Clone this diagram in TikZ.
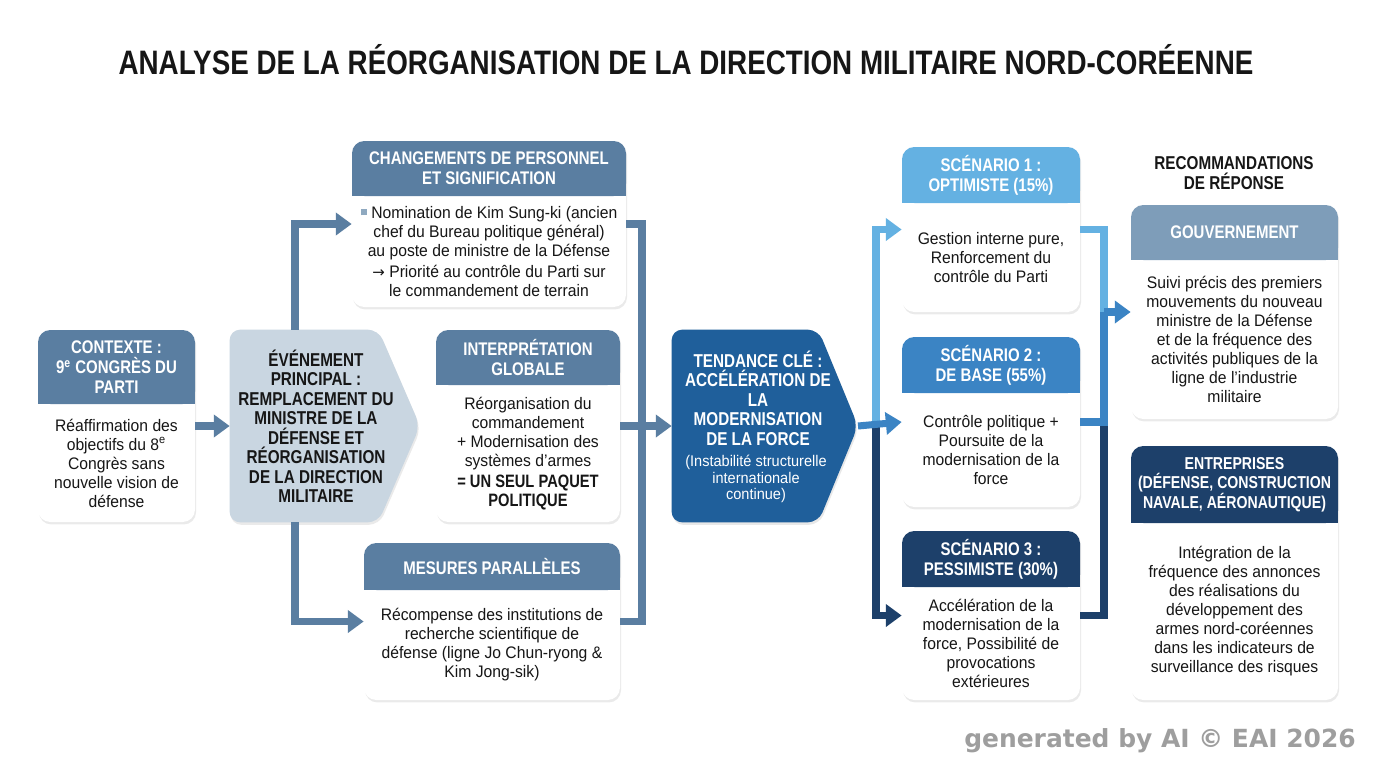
\documentclass[tikz,border=0pt]{standalone}
\usepackage{fontspec}
\setmainfont{Liberation Sans}[FakeStretch=0.94]
\newfontfamily\hfont{Liberation Sans}[FakeStretch=0.82]
\newfontfamily\arrowfont{DejaVu Sans}
\newfontfamily\wmfont{DejaVu Sans}
\usetikzlibrary{arrows.meta,shadows,fit,calc}
\definecolor{steel}{HTML}{5A7EA1}
\definecolor{evfill}{HTML}{C9D6E1}
\definecolor{tendc}{HTML}{1F5F9B}
\definecolor{sone}{HTML}{64B1E2}
\definecolor{stwo}{HTML}{3B84C4}
\definecolor{sthree}{HTML}{1D406A}
\definecolor{govc}{HTML}{7E9DB9}
\definecolor{bulc}{HTML}{8FA9C0}
\definecolor{ink}{HTML}{161616}
\tikzset{
  cardbox/.style={fill=white, rounded corners=7pt, inner sep=0pt,
    drop shadow={opacity=0.16, shadow xshift=0.6pt, shadow yshift=-1.4pt}},
  hdrtxt/.style={font=\hfont\bfseries\fontsize{10.4}{11.2}\selectfont, text=white, align=center, inner sep=0pt},
  bodytxt/.style={font=\fontsize{9.5}{10.8}\selectfont, text=ink, align=center, inner sep=0pt},
  boldtxt/.style={font=\hfont\bfseries\fontsize{10.6}{11.1}\selectfont, align=center, inner sep=0pt},
  conn/.style={line width=4pt, draw=#1, -{Triangle[length=9pt,width=12.5pt]}},
  wire/.style={line width=4pt, draw=#1},
}
\newcommand\card[9]{%
  \node[cardbox, fit={(#2,#3) (#4,#5)}] (#1) {};
  \fill[#7, rounded corners=7pt] (#2,#3) rectangle (#4,#6);
  \fill[#7] (#2,{(#3+#6)/2}) rectangle (#4,#6);
  \node[hdrtxt] (#1h) at ({(#2+#4)/2},{(#3+#6)/2}) {#8};
  \node[bodytxt] (#1b) at ({(#2+#4)/2},{(#6+#5)/2}) {#9};
}
\newcommand\smallhdr{\fontsize{9.8}{11.2}\selectfont}
\begin{document}
\begin{tikzpicture}[x=0.02cm,y=-0.02cm]
\useasboundingbox (0,0) rectangle (1376,768);
\fill[white] (0,0) rectangle (1376,768);

% title
\node[font=\hfont\bfseries\fontsize{19.3}{22}\selectfont, text=ink, inner sep=0pt] (title) at (686,60)
  {ANALYSE DE LA RÉORGANISATION DE LA DIRECTION MILITAIRE NORD-CORÉENNE};

% contexte
\card{ctx}{38}{330}{195}{522}{404}{steel}
  {CONTEXTE :\\9\textsuperscript{e} CONGRÈS DU\\PARTI}
  {Réaffirmation des\\objectifs du 8\textsuperscript{e}\\Congrès sans\\nouvelle vision de\\défense}

% evenement (pentagon)
\node[fit={(230,330) (378,522)}, inner sep=0pt] (ev) {};
\coordinate (evtip) at (420,426);
\path[fill=evfill, rounded corners=6pt, drop shadow={opacity=0.16, shadow xshift=0.6pt, shadow yshift=-1.4pt}]
  (ev.north west) -- (ev.north east) -- (evtip) -- (ev.south east) -- (ev.south west) -- cycle;
\node[boldtxt, text=ink] (evt) at (316,426)
  {ÉVÉNEMENT\\PRINCIPAL :\\REMPLACEMENT DU\\MINISTRE DE LA\\DÉFENSE ET\\RÉORGANISATION\\DE LA DIRECTION\\MILITAIRE};

% changements
\card{chg}{352}{141}{626}{307}{196}{steel}
  {CHANGEMENTS DE PERSONNEL\\ET SIGNIFICATION}
  {\textcolor{bulc}{\rule[1.6pt]{3.6pt}{3.6pt}}\ Nomination de Kim Sung-ki (ancien\\chef du Bureau politique général)\\au poste de ministre de la Défense\\[1.5pt]{\arrowfont\fontsize{8.5}{10}\selectfont →} Priorité au contrôle du Parti sur\\le commandement de terrain}

% interpretation
\card{int}{436}{330}{620}{522}{385}{steel}
  {INTERPRÉTATION\\GLOBALE}
  {Réorganisation du\\commandement\\+ Modernisation des\\systèmes d'armes\\[1.5pt]{\hfont\bfseries\fontsize{10.2}{11}\selectfont = UN SEUL PAQUET}\\{\hfont\bfseries\fontsize{10.2}{11}\selectfont POLITIQUE}}

% mesures
\card{mes}{364}{543}{620}{700}{590}{steel}
  {MESURES PARALLÈLES}
  {Récompense des institutions de\\recherche scientifique de\\défense (ligne Jo Chun-ryong \&\\Kim Jong-sik)}

% tendance (pentagon)
\node[fit={(672,330) (818,522)}, inner sep=0pt] (tend) {};
\coordinate (tendtip) at (858,426);
\path[fill=tendc, rounded corners=6pt, drop shadow={opacity=0.18, shadow xshift=0.6pt, shadow yshift=-1.4pt}]
  (tend.north west) -- (tend.north east) -- (tendtip) -- (tend.south east) -- (tend.south west) -- cycle;
\node[boldtxt, text=white] (tendt) at (758,398)
  {TENDANCE CLÉ :\\ACCÉLÉRATION DE\\LA\\MODERNISATION\\DE LA FORCE};
\node[font=\fontsize{8.8}{9.4}\selectfont, text=white, align=center, inner sep=0pt] (tends) at (756,479)
  {(Instabilité structurelle\\internationale\\continue)};

% scenarios
\card{sa}{902}{147}{1080}{312}{203}{sone}
  {SCÉNARIO 1 :\\OPTIMISTE (15\%)}
  {Gestion interne pure,\\Renforcement du\\contrôle du Parti}
\card{sb}{902}{337}{1080}{507}{393}{stwo}
  {SCÉNARIO 2 :\\DE BASE (55\%)}
  {Contrôle politique +\\Poursuite de la\\modernisation de la\\force}
\card{sc}{902}{531}{1080}{700}{587}{sthree}
  {SCÉNARIO 3 :\\PESSIMISTE (30\%)}
  {Accélération de la\\modernisation de la\\force, Possibilité de\\provocations\\extérieures}

% recommandations
\node[boldtxt, text=ink] (rec) at (1234,173) {RECOMMANDATIONS\\DE RÉPONSE};
\card{gov}{1131}{205}{1338}{419}{260}{govc}
  {GOUVERNEMENT}
  {Suivi précis des premiers\\mouvements du nouveau\\ministre de la Défense\\et de la fréquence des\\activités publiques de la\\ligne de l’industrie\\militaire}
\card{ent}{1131}{446}{1338}{700}{523}{sthree}
  {{\smallhdr ENTREPRISES}\\{\smallhdr (DÉFENSE, CONSTRUCTION}\\{\smallhdr NAVALE, AÉRONAUTIQUE)}}
  {Intégration de la\\fréquence des annonces\\des réalisations du\\développement des\\armes nord-coréennes\\dans les indicateurs de\\surveillance des risques}

% connectors left part
\draw[conn=steel] (ctx.east) -- (ev.west);
\draw[conn=steel] ([xshift=-0.18cm]ev.north) |- (chg.west);
\draw[conn=steel] ([xshift=-0.18cm]ev.south) |- (mes.west);
\coordinate (cx) at (642,426);
\draw[wire=steel] (chg.east) -| (cx) |- (mes.east);
\draw[conn=steel] (int.east) -- (tend.west);

% connectors to scenarios
\coordinate (sp) at (876,426);
\draw[conn=sone] (sp) |- (sa.west);
\draw[conn=sthree] (sp) |- (sc.west);
\draw[conn=stwo] (tendtip) -- (sb.west);

% connectors to recommendations
\coordinate (rj) at (1104,426);
\coordinate (rjtop) at (gov.west -| rj);
\draw[wire=sthree] (sc.east) -| (rj);
\draw[wire=stwo] (sb.east) -| (rjtop);
\draw[wire=sone] (sa.east) -| (rjtop);
\draw[conn=stwo] (rjtop) -- (gov.west);

% watermark
\node[font=\wmfont\bfseries\fontsize{14.2}{16}\selectfont, text=black!38, inner sep=0pt] (wm) at (1160,741)
  {generated by AI © EAI 2026};
\end{tikzpicture}
\end{document}
